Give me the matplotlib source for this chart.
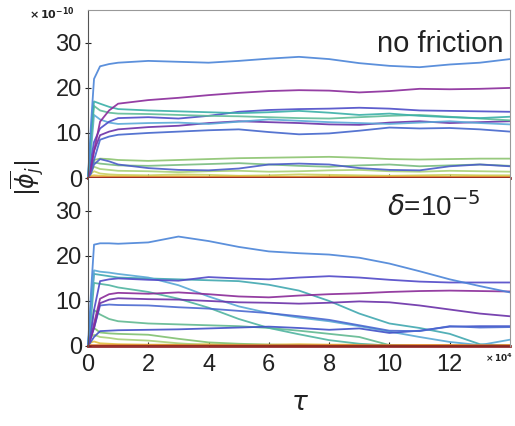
import matplotlib.pyplot as plt
import numpy as np

plt.rcParams['font.family'] = ['Liberation Sans', 'DejaVu Sans']
plt.rcParams['mathtext.fontset'] = 'dejavusans'

# time axis (units of 1e4)
tau = [0, 0.1, 0.2, 0.4, 0.7, 1, 2, 3, 4, 5, 6, 7, 8, 9, 10, 11, 12, 13, 14]

# ---- no friction: |phi_j| in units of 1e-10 ----
nf_blue_top = [0, 12, 22, 24.8, 25.3, 25.6, 26.0, 25.8, 25.6, 26.0, 26.5, 26.9, 26.4, 25.5, 24.9, 24.6, 25.2, 25.6, 26.4]
nf_magenta = [0, 2, 6, 12.5, 15.0, 16.5, 17.3, 17.8, 18.4, 18.9, 19.3, 19.5, 19.4, 19.0, 19.3, 19.8, 19.7, 19.8, 20.0]
nf_teal_a = [0, 10, 17, 16.5, 15.8, 15.3, 15.0, 14.8, 14.6, 14.4, 14.6, 14.9, 14.5, 14.0, 14.3, 13.8, 13.5, 13.3, 13.6]
nf_teal_b = [0, 8, 16, 15.0, 14.5, 14.3, 14.2, 14.0, 13.8, 13.7, 13.5, 13.3, 13.2, 13.5, 13.8, 14.0, 13.6, 13.2, 12.8]
nf_violet = [0, 4, 8, 11.0, 12.5, 13.3, 13.5, 13.2, 13.8, 14.7, 15.1, 15.3, 15.4, 15.6, 15.4, 15.0, 14.9, 14.8, 14.7]
nf_cyan = [0, 6, 14, 13.0, 12.3, 12.0, 12.2, 12.3, 12.0, 12.5, 13.0, 12.7, 12.4, 12.2, 12.0, 12.3, 12.6, 12.2, 11.9]
nf_purple = [0, 3, 6, 9.5, 10.3, 10.8, 11.3, 11.6, 12.2, 12.6, 12.4, 12.2, 11.9, 11.8, 12.3, 12.6, 12.2, 12.4, 12.6]
nf_blue = [0, 2, 4, 8.5, 9.2, 9.6, 10.0, 10.3, 10.6, 10.8, 10.2, 9.7, 9.9, 10.5, 11.2, 11.0, 11.1, 10.8, 10.3]
nf_green_a = [0, 2, 4, 4.3, 4.2, 4.0, 3.8, 4.0, 4.2, 4.4, 4.5, 4.6, 4.7, 4.5, 4.2, 4.1, 4.2, 4.3, 4.3]
nf_green_b = [0, 3, 3.5, 3.2, 3.0, 2.8, 2.7, 2.9, 3.1, 3.3, 3.0, 2.7, 2.5, 2.8, 3.0, 2.6, 2.8, 3.0, 2.7]
nf_blue_low = [0, 1, 3, 4.2, 3.7, 3.0, 2.2, 1.8, 1.7, 2.1, 3.0, 3.2, 3.0, 2.2, 1.8, 1.7, 2.6, 3.0, 2.6]
nf_lime = [0, 1.5, 2.5, 2.0, 1.8, 1.6, 1.5, 1.3, 1.5, 1.6, 1.4, 1.5, 1.7, 1.8, 1.5, 1.4, 1.6, 1.5, 1.4]
nf_yellowgreen = [0, 1, 1.5, 1.0, 0.8, 0.7, 0.6, 0.8, 0.7, 0.5, 0.6, 0.8, 0.7, 0.6, 0.5, 0.6, 0.7, 0.6, 0.6]
nf_yellow = [0, 0.5, 0.6, 0.5, 0.4, 0.4, 0.3, 0.4, 0.3, 0.4, 0.3, 0.3, 0.4, 0.3, 0.4, 0.4, 0.3, 0.4, 0.3]
nf_orange = [0, 0.2, 0.2, 0.2, 0.2, 0.2, 0.2, 0.2, 0.2, 0.2, 0.2, 0.2, 0.2, 0.2, 0.2, 0.2, 0.2, 0.2, 0.2]
nf_red = [0] * 19

# ---- delta = 1e-5 ----
dl_blue_top = [0, 12, 22.5, 22.8, 22.8, 22.7, 23.0, 24.3, 23.3, 22.0, 21.0, 20.6, 20.3, 19.6, 18.3, 16.6, 14.8, 13.3, 11.9]
dl_violet = [0, 3, 8, 14.4, 14.8, 15.0, 14.7, 14.5, 15.3, 15.0, 14.8, 15.2, 15.5, 15.2, 14.7, 14.3, 14.1, 14.1, 14.1]
dl_magenta = [0, 2, 5, 10.5, 11.5, 11.8, 11.6, 11.9, 11.5, 11.0, 10.8, 11.2, 11.5, 11.7, 12.0, 12.2, 12.3, 12.2, 12.1]
dl_purple = [0, 2, 4, 9.5, 10.3, 10.6, 10.4, 10.3, 10.0, 9.7, 9.6, 9.4, 9.6, 9.9, 9.7, 9.0, 8.1, 7.2, 6.6]
dl_blue = [0, 2, 4, 9.0, 9.2, 9.1, 9.0, 8.6, 8.3, 7.8, 7.3, 6.6, 5.8, 4.6, 3.4, 3.3, 4.4, 4.1, 4.2]
dl_blue_low = [0, 1, 2, 3.3, 3.4, 3.5, 3.6, 3.7, 3.9, 4.1, 4.3, 4.0, 3.6, 3.9, 2.9, 3.4, 4.3, 4.4, 4.4]
dl_cyan = [0, 8, 16.8, 16.5, 16.3, 16.0, 15.2, 13.5, 11.0, 8.8, 7.3, 6.3, 5.5, 4.4, 3.2, 2.0, 0.9, 0.2, 1.4]
dl_teal = [0, 8, 16, 15.8, 15.5, 15.2, 15.0, 14.8, 14.6, 14.4, 13.6, 12.3, 10.0, 7.2, 5.0, 4.0, 2.7, 0.4, 0]
dl_teal_green = [0, 6, 14, 13.8, 13.5, 13.0, 12.0, 10.5, 8.5, 6.0, 4.0, 2.6, 1.3, 0.5, 0.1, 0, 0, 0, 0]
dl_sea_green = [0, 4, 8, 7.0, 6.0, 5.5, 5.0, 4.8, 4.6, 4.4, 4.0, 3.4, 2.7, 2.0, 0.2, 0, 0, 0, 0]
dl_green = [0, 3, 4, 3.0, 2.8, 2.7, 2.5, 1.6, 0.8, 0.5, 0.3, 0.2, 0, 0, 0, 0, 0, 0, 0]
dl_lime = [0, 2, 2.5, 2.0, 1.8, 1.5, 1.2, 0.6, 0.2, 0.1, 0, 0, 0, 0, 0, 0, 0, 0, 0]
dl_yellow = [0, 0.8, 1.0, 0.6, 0.5, 0.4, 0.3, 0.3, 0.4, 0.3, 0.3, 0.4, 0.3, 0.3, 0.2, 0.2, 0.2, 0.2, 0.2]
dl_orange = [0, 0.2, 0.2, 0.2, 0.2, 0.2, 0.2, 0.2, 0.2, 0.2, 0.2, 0.2, 0.2, 0.2, 0.2, 0.2, 0.2, 0.2, 0.2]
dl_red = [0] * 19

top_series = [
    (nf_yellowgreen, '#c8d060'), (nf_yellow, '#e0c040'), (nf_lime, '#a8d078'),
    (nf_green_b, '#78bc80'), (nf_green_a, '#8cc470'), (nf_blue_low, '#4a5cc8'),
    (nf_blue, '#4466cc'), (nf_purple, '#6a30a8'), (nf_cyan, '#5aaad8'),
    (nf_violet, '#4c4cc8'), (nf_teal_b, '#60bc98'), (nf_teal_a, '#3ab0a8'),
    (nf_magenta, '#8a2a9a'), (nf_blue_top, '#4a84d8'),
    (nf_orange, '#e08030'), (nf_red, '#8b1a1a'),
]
bottom_series = [
    (dl_yellow, '#e0c040'), (dl_lime, '#a8d078'), (dl_green, '#80c070'),
    (dl_sea_green, '#60b890'), (dl_teal_green, '#50b4a0'), (dl_teal, '#40a8b0'),
    (dl_cyan, '#58a8d4'), (dl_blue_low, '#4050c8'), (dl_blue, '#4a68d0'),
    (dl_purple, '#6a30a8'), (dl_magenta, '#8a2a98'), (dl_violet, '#5048c8'),
    (dl_blue_top, '#4a84d8'),
    (dl_orange, '#e08030'), (dl_red, '#8b1a1a'),
]

fig = plt.figure(figsize=(5.15, 4.26), dpi=100)
ax1 = fig.add_axes([88 / 515, 1 - 178 / 426, 422 / 515, 168 / 426])
ax2 = fig.add_axes([88 / 515, 1 - 346 / 426, 422 / 515, 168 / 426])

for ax, series in ((ax1, top_series), (ax2, bottom_series)):
    for vals, col in series:
        lw = 2.0 if col == '#8b1a1a' else 1.3
        ax.plot(tau, vals, color=col, lw=lw, alpha=0.9, clip_on=False,
                solid_joinstyle='round')
    ax.set_xlim(0, 14)
    ax.set_ylim(0, 37.3)
    ax.set_yticks([0, 10, 20, 30])
    ax.set_xticks([0, 2, 4, 6, 8, 10, 12])
    ax.tick_params(axis='y', direction='inout', length=5, width=0.8,
                   labelsize=17, pad=2, colors='#222222')
    ax.tick_params(axis='x', direction='in', length=3, width=0.8,
                   labelsize=17, pad=6, colors='#222222')
    for s in ('top', 'right'):
        ax.spines[s].set_color('#999999')
    ax.spines['left'].set_color('#555555')
    ax.spines['bottom'].set_visible(False)

ax1.tick_params(axis='x', labelbottom=False)
ax2.spines['top'].set_visible(False)

ax1.text(0.985, 0.80, 'no friction', transform=ax1.transAxes,
         ha='right', va='center', fontsize=21, color='#222222')
ax2.text(0.93, 0.83, r'$\delta$=10$^{-5}$', transform=ax2.transAxes,
         ha='right', va='center', fontsize=20, color='#222222')

fig.text(29 / 515, 1 - 14 / 426, r'$\mathbf{\times\,10^{-10}}$', fontsize=8,
         ha='left', va='center', color='#222222')
fig.text(513 / 515, 1 - 358 / 426, r'$\mathbf{\times\,10^{4}}$', fontsize=6.5,
         ha='right', va='center', color='#222222')
fig.text(27 / 515, 1 - 178 / 426, r'$|\overline{\phi}_j|$', fontsize=17,
         rotation=90, ha='center', va='center', color='#222222')
fig.text(300 / 515, 1 - 403 / 426, r'$\tau$', fontsize=19,
         ha='center', va='center', color='#222222')

fig.savefig('out.png', dpi=100)
